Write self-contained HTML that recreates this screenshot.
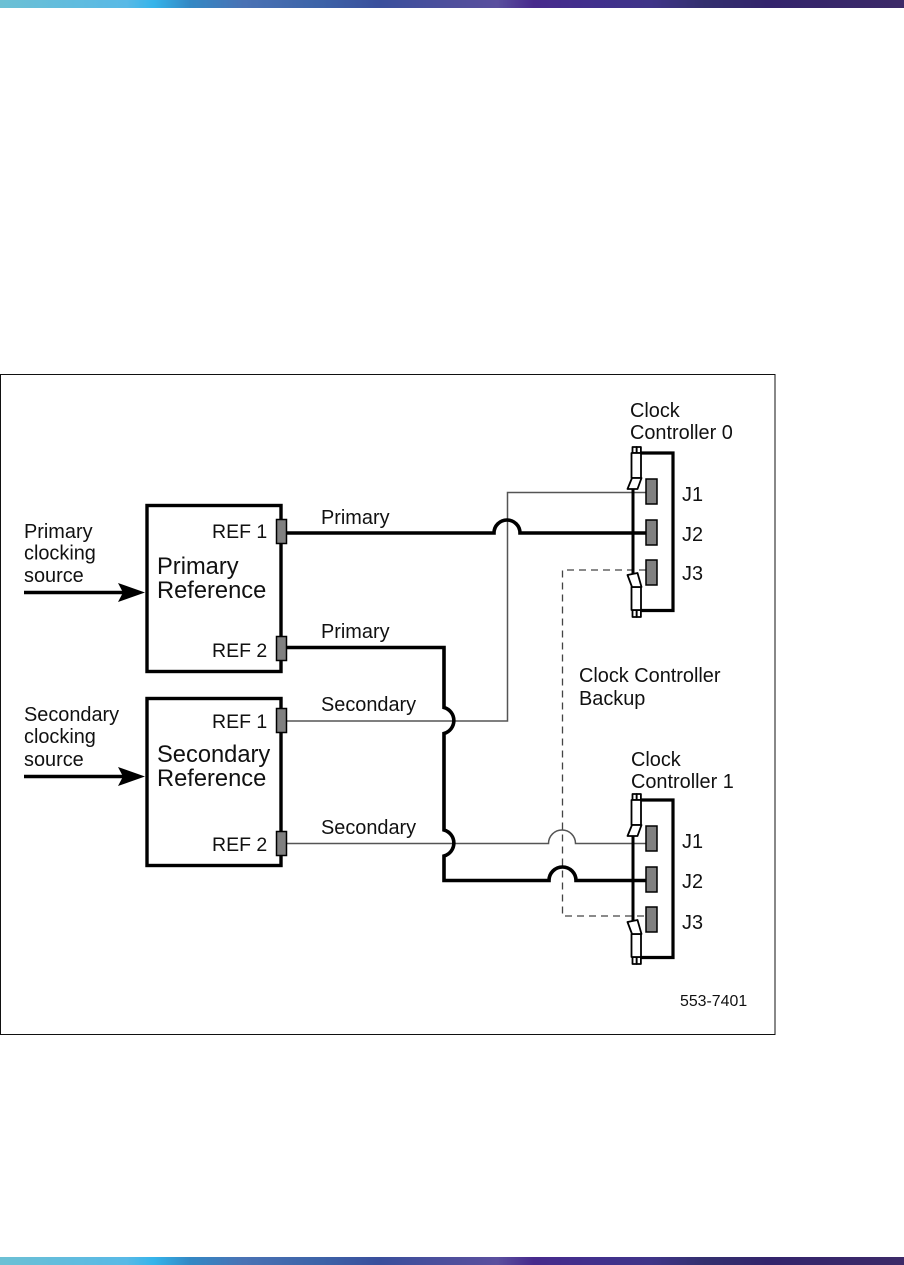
<!DOCTYPE html>
<html>
<head>
<meta charset="utf-8">
<style>
html,body{margin:0;padding:0;background:#fff;width:904px;height:1265px;overflow:hidden}
.bar{position:absolute;left:0;width:904px;height:8px;background:linear-gradient(90deg,#6cc0d4 0%,#58b9e6 14%,#35b4ea 17%,#3388c4 21%,#4a72b4 27%,#3d64a8 35%,#3a4f9c 42%,#4f4f9c 50%,#5a4f9e 55%,#472a8c 59%,#41308c 66%,#3f3488 72%,#33306e 78%,#33246c 85%,#3c2a68 100%)}
svg{position:absolute;left:0;top:0;filter:blur(0.35px)}
text{font-family:"Liberation Sans",sans-serif;fill:#111}
</style>
</head>
<body>
<div class="bar" style="top:0"></div>
<div class="bar" style="top:1257px"></div>
<svg width="904" height="1265" viewBox="0 0 904 1265" xmlns="http://www.w3.org/2000/svg">
<defs>
<g id="ctl">
  <path d="M640 0H673V157.500H640" fill="none" stroke="#000" stroke-width="3.200"/>
  <line x1="633" y1="36" x2="633" y2="121" stroke="#000" stroke-width="3"/>
  <rect x="646" y="26" width="11" height="25" fill="#808080" stroke="#000" stroke-width="1.500"/>
  <rect x="646" y="67" width="11" height="25" fill="#808080" stroke="#000" stroke-width="1.500"/>
  <rect x="646" y="107" width="11" height="25" fill="#808080" stroke="#000" stroke-width="1.500"/>
  <g fill="#fff" stroke="#000" stroke-width="1.800" stroke-linejoin="round">
    <rect x="632.500" y="-6" width="4.200" height="6"/><rect x="636.700" y="-6" width="4.200" height="6"/>
    <rect x="631.500" y="0" width="9.500" height="25"/>
    <path d="M632 25H641.500L637.500 36H627.500Z"/>
    <rect x="632.500" y="157" width="4.200" height="7"/><rect x="636.700" y="157" width="4.200" height="7"/>
    <rect x="631.500" y="134" width="9.500" height="23"/>
    <path d="M632 134H641.500L637.500 120L627.500 122Z"/>
  </g>
</g>
</defs>

<rect x="0.500" y="374.500" width="774.500" height="660" fill="#fff" stroke="#111" stroke-width="1"/>

<!-- boxes -->
<rect x="147" y="505.500" width="134" height="166" fill="#fff" stroke="#000" stroke-width="3.400"/>
<rect x="147" y="698.500" width="134" height="167" fill="#fff" stroke="#000" stroke-width="3.400"/>

<!-- arrows -->
<path d="M24 592.500H125" stroke="#000" stroke-width="3.500" fill="none"/>
<path d="M145 592.500L118 583L123 592.500L118 602Z" fill="#000"/>
<path d="M24 776.500H125" stroke="#000" stroke-width="3.500" fill="none"/>
<path d="M145 776.500L118 767L123 776.500L118 786Z" fill="#000"/>

<!-- thin lines -->
<g fill="none" stroke="#555" stroke-width="1.500">
  <path d="M287 721H507.500V492.500H646"/>
  <path d="M287 843.500H548.500A13.500 13.500 0 0 1 575.500 843.500H646"/>
</g>
<!-- dashed -->
<g fill="none" stroke="#444" stroke-width="1.300" stroke-dasharray="7 5">
  <path d="M646 570H562.500V916H646"/>
</g>
<!-- thick lines -->
<g fill="none" stroke="#000" stroke-width="3.600">
  <path d="M287 533H494A13 13 0 0 1 520 533H646"/>
  <path d="M287 647.500H444V707.500A13.500 13.500 0 0 1 444 733.500V830A13.500 13.500 0 0 1 444 856V880.500H549A13.500 13.500 0 0 1 576 880.500H646"/>
</g>

<!-- controllers -->
<use href="#ctl" y="453"/>
<use href="#ctl" y="800"/>

<!-- ref connectors -->
<g fill="#808080" stroke="#000" stroke-width="1.500">
  <rect x="276.500" y="519.500" width="10" height="24"/>
  <rect x="276.500" y="636.500" width="10" height="24"/>
  <rect x="276.500" y="708.500" width="10" height="24"/>
  <rect x="276.500" y="831.500" width="10" height="24"/>
</g>

<!-- labels -->
<g font-size="19.900">
  <text x="630" y="417">Clock</text>
  <text x="630" y="439">Controller 0</text>
  <text x="631" y="766">Clock</text>
  <text x="631" y="788">Controller 1</text>
  <text x="682" y="501">J1</text>
  <text x="682" y="541">J2</text>
  <text x="682" y="580">J3</text>
  <text x="682" y="848">J1</text>
  <text x="682" y="888">J2</text>
  <text x="682" y="929">J3</text>
  <text x="24" y="538">Primary</text>
  <text x="24" y="559.500">clocking</text>
  <text x="24" y="582">source</text>
  <text x="24" y="721">Secondary</text>
  <text x="24" y="743">clocking</text>
  <text x="24" y="766">source</text>
  <text x="212" y="538" font-size="19.500">REF 1</text>
  <text x="212" y="657" font-size="19.500">REF 2</text>
  <text x="212" y="728" font-size="19.500">REF 1</text>
  <text x="212" y="851" font-size="19.500">REF 2</text>
  <text x="321" y="524">Primary</text>
  <text x="321" y="638">Primary</text>
  <text x="321" y="711">Secondary</text>
  <text x="321" y="834">Secondary</text>
  <text x="579" y="682">Clock Controller</text>
  <text x="579" y="705">Backup</text>
</g>
<g font-size="23.700">
  <text x="157" y="574">Primary</text>
  <text x="157" y="598">Reference</text>
  <text x="157" y="762">Secondary</text>
  <text x="157" y="786">Reference</text>
</g>
<text x="680" y="1006" font-size="15.900">553-7401</text>
</svg>
</body>
</html>
